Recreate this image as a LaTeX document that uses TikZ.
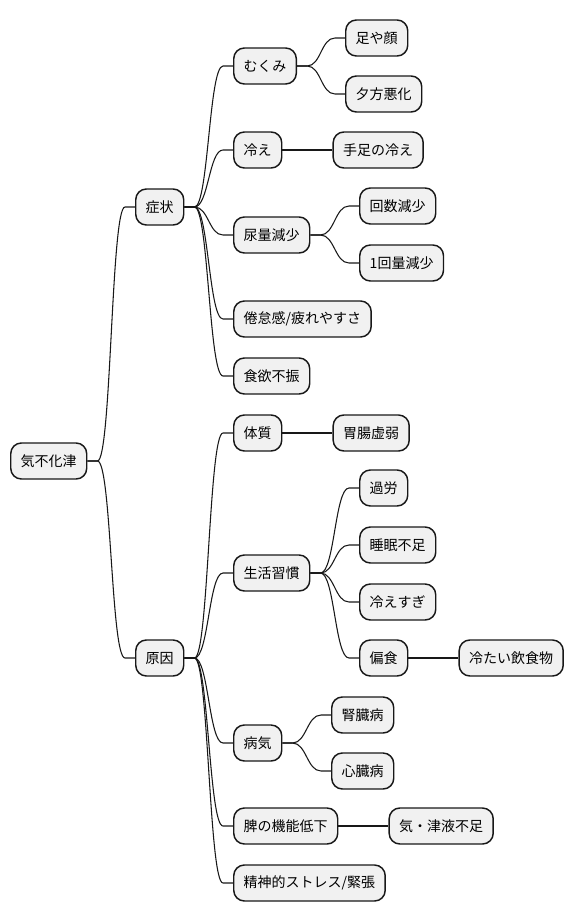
\documentclass[tikz,border=0pt]{standalone}
\usepackage{fontspec}
\newfontfamily\jpfont{Noto Sans CJK JP}
\usepackage{tikz}
\usetikzlibrary{positioning}
\definecolor{nodefill}{HTML}{F1F1F1}
\definecolor{nodeline}{HTML}{181818}

\begin{document}
\begin{tikzpicture}[x=0.75pt, y=-0.75pt, node distance=37.5pt,
  mind node/.style={rectangle, rounded corners=8pt, draw=nodeline, fill=nodefill,
    line width=1.1pt, minimum height=27pt, inner xsep=7.5pt, anchor=west,
    font=\jpfont\fontsize{10.5pt}{12pt}\selectfont},
  branch/.style={to path={(\tikztostart.east) -- ++(10,0)
    .. controls +(14,0) and +(-14,0) .. ([xshift=-7.5pt]\tikztotarget.west)
    -- (\tikztotarget.west)}}]

\useasboundingbox (0,0) rectangle (572,921);

\node[mind node] (root) at (10,461) {気不化津};
\node[mind node] (sym) at (135,207) {症状};
\node[mind node] (cause) at (135,658) {原因};

\node[mind node] (mukumi) at (233,66) {むくみ};
\node[mind node] (hie) at (233,150) {冷え};
\node[mind node] (nyo) at (233,235) {尿量減少};
\node[mind node] (kentai) at (233,319) {倦怠感/疲れやすさ};
\node[mind node] (shoku) at (233,376) {食欲不振};
\node[mind node] (taishitsu) at (233,433) {体質};
\node[mind node] (seikatsu) at (233,573) {生活習慣};
\node[mind node] (byoki) at (233,743) {病気};
\node[mind node] (hi) at (233,826) {脾の機能低下};
\node[mind node] (seishin) at (233,883) {精神的ストレス/緊張};

\node[mind node] (ashi) at (345,38) {足や顔};
\node[mind node] (yugata) at (345,94) {夕方悪化};
\node[mind node] (teashi) [right=of hie] {手足の冷え};
\node[mind node] (kaisu) at (359,206) {回数減少};
\node[mind node] (ikkai) at (359,263) {1回量減少};
\node[mind node] (ichou) [right=of taishitsu] {胃腸虚弱};
\node[mind node] (karo) at (359,488) {過労};
\node[mind node] (suimin) at (359,545) {睡眠不足};
\node[mind node] (hiesugi) at (359,602) {冷えすぎ};
\node[mind node] (henshoku) at (359,658) {偏食};
\node[mind node] (tsumetai) [right=of henshoku] {冷たい飲食物};
\node[mind node] (jinzo) at (331,715) {腎臓病};
\node[mind node] (shinzo) at (331,771) {心臓病};
\node[mind node] (kieki) [right=of hi] {気・津液不足};

\path[draw=nodeline, line width=0.8pt]
(root) edge[branch] (sym)
(root) edge[branch] (cause)
(sym) edge[branch] (mukumi)
(sym) edge[branch] (hie)
(sym) edge[branch] (nyo)
(sym) edge[branch] (kentai)
(sym) edge[branch] (shoku)
(mukumi) edge[branch] (ashi)
(mukumi) edge[branch] (yugata)
(hie) edge[branch] (teashi)
(nyo) edge[branch] (kaisu)
(nyo) edge[branch] (ikkai)
(cause) edge[branch] (taishitsu)
(cause) edge[branch] (seikatsu)
(cause) edge[branch] (byoki)
(cause) edge[branch] (hi)
(cause) edge[branch] (seishin)
(taishitsu) edge[branch] (ichou)
(seikatsu) edge[branch] (karo)
(seikatsu) edge[branch] (suimin)
(seikatsu) edge[branch] (hiesugi)
(seikatsu) edge[branch] (henshoku)
(henshoku) edge[branch] (tsumetai)
(byoki) edge[branch] (jinzo)
(byoki) edge[branch] (shinzo)
(hi) edge[branch] (kieki)
;

\end{tikzpicture}
\end{document}
